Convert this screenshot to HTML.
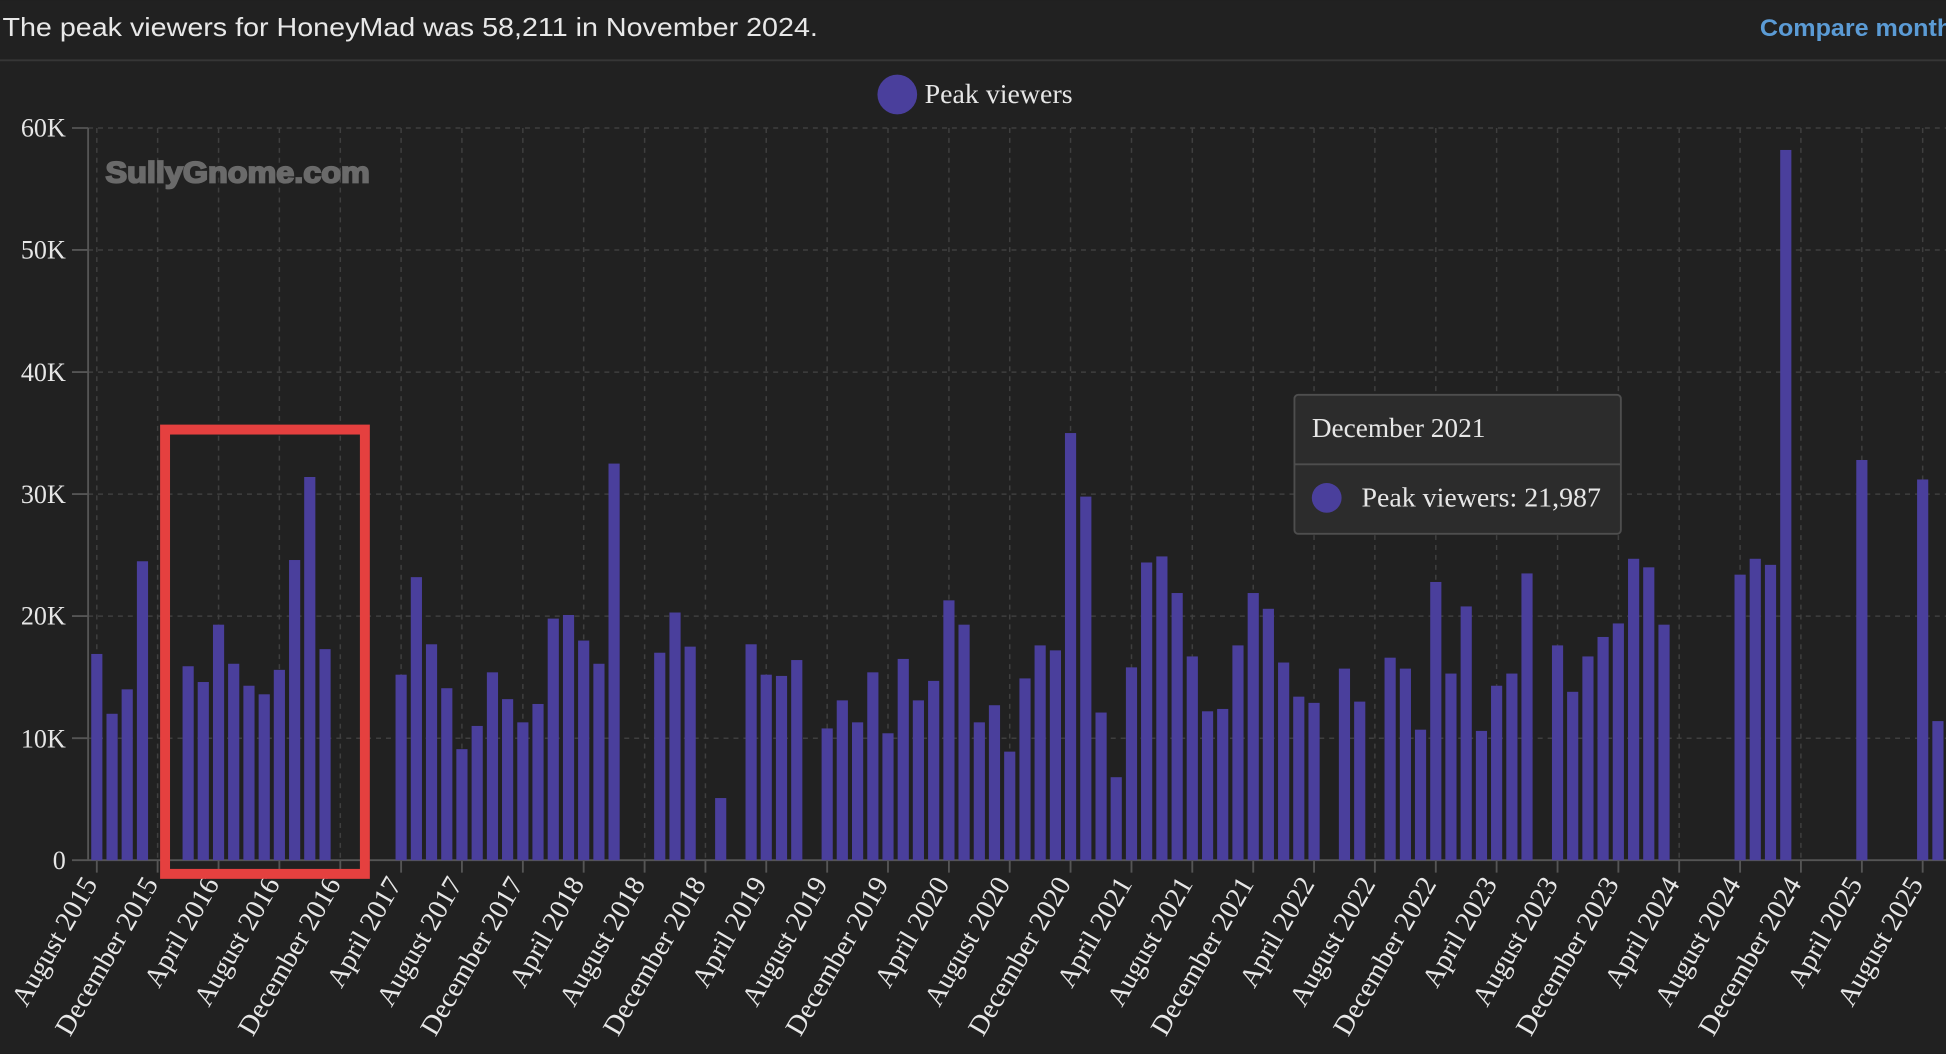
<!DOCTYPE html>
<html><head><meta charset="utf-8"><style>
html,body{margin:0;padding:0;background:#212121;overflow:hidden}
svg{display:block}
.yl{font-family:"Liberation Serif",serif;font-size:21px;fill:#e6e6e6;text-anchor:end}
.xl{font-family:"Liberation Serif",serif;font-size:22.5px;fill:#e6e6e6;text-anchor:end}
</style></head><body>
<svg width="1946" height="1054" viewBox="0 0 1568 849" xmlns="http://www.w3.org/2000/svg">
<rect width="1568" height="849" fill="#212121"/>
<text x="2" y="29" font-family="Liberation Sans,sans-serif" font-size="21" fill="#e8e8e8" textLength="657" lengthAdjust="spacingAndGlyphs">The peak viewers for HoneyMad was 58,211 in November 2024.</text>
<text x="1418" y="29" font-family="Liberation Sans,sans-serif" font-size="19" font-weight="bold" fill="#5b9bd5" textLength="155" lengthAdjust="spacingAndGlyphs">Compare month</text>
<line x1="0" y1="48.5" x2="1568" y2="48.5" stroke="#363636" stroke-width="1.5"/>
<circle cx="723" cy="76" r="16" fill="#4a3f9c"/>
<text x="745" y="83" font-family="Liberation Serif,serif" font-size="22.5" fill="#e6e6e6">Peak viewers</text>
<g stroke="#3f3f3f" stroke-width="1.2" stroke-dasharray="4,4">
<line x1="71" y1="103" x2="1568" y2="103"/><line x1="71" y1="201.3" x2="1568" y2="201.3"/><line x1="71" y1="299.7" x2="1568" y2="299.7"/><line x1="71" y1="398" x2="1568" y2="398"/><line x1="71" y1="496.3" x2="1568" y2="496.3"/><line x1="71" y1="594.7" x2="1568" y2="594.7"/>
</g>
<g stroke="#3f3f3f" stroke-width="1.2" stroke-dasharray="4,4">
<line x1="78" y1="103" x2="78" y2="693"/><line x1="127" y1="103" x2="127" y2="693"/><line x1="176.1" y1="103" x2="176.1" y2="693"/><line x1="225.1" y1="103" x2="225.1" y2="693"/><line x1="274.2" y1="103" x2="274.2" y2="693"/><line x1="323.2" y1="103" x2="323.2" y2="693"/><line x1="372.2" y1="103" x2="372.2" y2="693"/><line x1="421.3" y1="103" x2="421.3" y2="693"/><line x1="470.3" y1="103" x2="470.3" y2="693"/><line x1="519.4" y1="103" x2="519.4" y2="693"/><line x1="568.4" y1="103" x2="568.4" y2="693"/><line x1="617.4" y1="103" x2="617.4" y2="693"/><line x1="666.5" y1="103" x2="666.5" y2="693"/><line x1="715.5" y1="103" x2="715.5" y2="693"/><line x1="764.6" y1="103" x2="764.6" y2="693"/><line x1="813.6" y1="103" x2="813.6" y2="693"/><line x1="862.6" y1="103" x2="862.6" y2="693"/><line x1="911.7" y1="103" x2="911.7" y2="693"/><line x1="960.7" y1="103" x2="960.7" y2="693"/><line x1="1009.8" y1="103" x2="1009.8" y2="693"/><line x1="1058.8" y1="103" x2="1058.8" y2="693"/><line x1="1107.8" y1="103" x2="1107.8" y2="693"/><line x1="1156.9" y1="103" x2="1156.9" y2="693"/><line x1="1205.9" y1="103" x2="1205.9" y2="693"/><line x1="1255" y1="103" x2="1255" y2="693"/><line x1="1304" y1="103" x2="1304" y2="693"/><line x1="1353" y1="103" x2="1353" y2="693"/><line x1="1402.1" y1="103" x2="1402.1" y2="693"/><line x1="1451.1" y1="103" x2="1451.1" y2="693"/><line x1="1500.2" y1="103" x2="1500.2" y2="693"/><line x1="1549.2" y1="103" x2="1549.2" y2="693"/>
</g>
<text x="85" y="147" font-family="Liberation Sans,sans-serif" font-size="24" font-weight="bold" fill="#6a6a6a" stroke="#6a6a6a" stroke-width="1.5" textLength="213" lengthAdjust="spacingAndGlyphs">SullyGnome.com</text>
<g stroke="#555" stroke-width="1.5">
<line x1="71" y1="103" x2="71" y2="693"/>
<line x1="58" y1="693" x2="1568" y2="693"/>
<line x1="58" y1="103" x2="71" y2="103"/><line x1="58" y1="201.3" x2="71" y2="201.3"/><line x1="58" y1="299.7" x2="71" y2="299.7"/><line x1="58" y1="398" x2="71" y2="398"/><line x1="58" y1="496.3" x2="71" y2="496.3"/><line x1="58" y1="594.7" x2="71" y2="594.7"/>
</g>
<g class="yl">
<text x="53" y="110">60K</text><text x="53" y="208">50K</text><text x="53" y="307">40K</text><text x="53" y="405">30K</text><text x="53" y="503">20K</text><text x="53" y="602">10K</text><text x="53" y="700">0</text>
</g>
<g transform="translate(0,693) scale(1,-1)" fill="#4a3f9c">
<rect x="73.5" y="0" width="9" height="166.2"/><rect x="85.8" y="0" width="9" height="118"/><rect x="98" y="0" width="9" height="137.7"/><rect x="110.3" y="0" width="9" height="240.9"/>
<rect x="147.1" y="0" width="9" height="156.3"/><rect x="159.3" y="0" width="9" height="143.6"/><rect x="171.6" y="0" width="9" height="189.8"/><rect x="183.8" y="0" width="9" height="158.3"/><rect x="196.1" y="0" width="9" height="140.6"/><rect x="208.4" y="0" width="9" height="133.7"/><rect x="220.6" y="0" width="9" height="153.4"/><rect x="232.9" y="0" width="9" height="241.9"/><rect x="245.1" y="0" width="9" height="308.8"/><rect x="257.4" y="0" width="9" height="170.1"/>
<rect x="318.7" y="0" width="9" height="149.5"/><rect x="331" y="0" width="9" height="228.1"/><rect x="343.2" y="0" width="9" height="174"/><rect x="355.5" y="0" width="9" height="138.6"/><rect x="367.7" y="0" width="9" height="89.5"/><rect x="380" y="0" width="9" height="108.2"/><rect x="392.3" y="0" width="9" height="151.4"/><rect x="404.5" y="0" width="9" height="129.8"/><rect x="416.8" y="0" width="9" height="111.1"/><rect x="429" y="0" width="9" height="125.9"/><rect x="441.3" y="0" width="9" height="194.7"/><rect x="453.6" y="0" width="9" height="197.6"/><rect x="465.8" y="0" width="9" height="177"/><rect x="478.1" y="0" width="9" height="158.3"/><rect x="490.3" y="0" width="9" height="319.6"/>
<rect x="527.1" y="0" width="9" height="167.2"/><rect x="539.4" y="0" width="9" height="199.6"/><rect x="551.6" y="0" width="9" height="172.1"/><rect x="576.2" y="0" width="9" height="50.1"/>
<rect x="600.7" y="0" width="9" height="174"/><rect x="612.9" y="0" width="9" height="149.5"/><rect x="625.2" y="0" width="9" height="148.5"/><rect x="637.5" y="0" width="9" height="161.3"/>
<rect x="662" y="0" width="9" height="106.2"/><rect x="674.2" y="0" width="9" height="128.8"/><rect x="686.5" y="0" width="9" height="111.1"/><rect x="698.8" y="0" width="9" height="151.4"/><rect x="711" y="0" width="9" height="102.3"/><rect x="723.3" y="0" width="9" height="162.2"/><rect x="735.5" y="0" width="9" height="128.8"/><rect x="747.8" y="0" width="9" height="144.5"/><rect x="760.1" y="0" width="9" height="209.4"/><rect x="772.3" y="0" width="9" height="189.8"/><rect x="784.6" y="0" width="9" height="111.1"/><rect x="796.8" y="0" width="9" height="124.9"/><rect x="809.1" y="0" width="9" height="87.5"/><rect x="821.4" y="0" width="9" height="146.5"/><rect x="833.6" y="0" width="9" height="173.1"/><rect x="845.9" y="0" width="9" height="169.1"/><rect x="858.1" y="0" width="9" height="344.2"/><rect x="870.4" y="0" width="9" height="293"/><rect x="882.7" y="0" width="9" height="119"/><rect x="894.9" y="0" width="9" height="66.9"/><rect x="907.2" y="0" width="9" height="155.4"/><rect x="919.4" y="0" width="9" height="239.9"/><rect x="931.7" y="0" width="9" height="244.8"/><rect x="944" y="0" width="9" height="215.3"/><rect x="956.2" y="0" width="9" height="164.2"/><rect x="968.5" y="0" width="9" height="120"/><rect x="980.7" y="0" width="9" height="121.9"/><rect x="993" y="0" width="9" height="173.1"/><rect x="1005.3" y="0" width="9" height="215.3"/><rect x="1017.5" y="0" width="9" height="202.6"/><rect x="1029.8" y="0" width="9" height="159.3"/><rect x="1042" y="0" width="9" height="131.8"/><rect x="1054.3" y="0" width="9" height="126.8"/>
<rect x="1078.8" y="0" width="9" height="154.4"/><rect x="1091.1" y="0" width="9" height="127.8"/>
<rect x="1115.6" y="0" width="9" height="163.2"/><rect x="1127.9" y="0" width="9" height="154.4"/><rect x="1140.1" y="0" width="9" height="105.2"/><rect x="1152.4" y="0" width="9" height="224.2"/><rect x="1164.6" y="0" width="9" height="150.4"/><rect x="1176.9" y="0" width="9" height="204.5"/><rect x="1189.2" y="0" width="9" height="104.2"/><rect x="1201.4" y="0" width="9" height="140.6"/><rect x="1213.7" y="0" width="9" height="150.4"/><rect x="1225.9" y="0" width="9" height="231.1"/>
<rect x="1250.5" y="0" width="9" height="173.1"/><rect x="1262.7" y="0" width="9" height="135.7"/><rect x="1275" y="0" width="9" height="164.2"/><rect x="1287.2" y="0" width="9" height="179.9"/><rect x="1299.5" y="0" width="9" height="190.8"/><rect x="1311.8" y="0" width="9" height="242.9"/><rect x="1324" y="0" width="9" height="236"/><rect x="1336.3" y="0" width="9" height="189.8"/>
<rect x="1397.6" y="0" width="9" height="230.1"/><rect x="1409.8" y="0" width="9" height="242.9"/><rect x="1422.1" y="0" width="9" height="238"/><rect x="1434.4" y="0" width="9" height="572.3"/>
<rect x="1495.7" y="0" width="9" height="322.5"/><rect x="1544.7" y="0" width="9" height="306.8"/><rect x="1557" y="0" width="9" height="112.1"/>
</g>
<g stroke="#555" stroke-width="1.5">
<line x1="78" y1="693" x2="78" y2="703"/><line x1="127" y1="693" x2="127" y2="703"/><line x1="176.1" y1="693" x2="176.1" y2="703"/><line x1="225.1" y1="693" x2="225.1" y2="703"/><line x1="274.2" y1="693" x2="274.2" y2="703"/><line x1="323.2" y1="693" x2="323.2" y2="703"/><line x1="372.2" y1="693" x2="372.2" y2="703"/><line x1="421.3" y1="693" x2="421.3" y2="703"/><line x1="470.3" y1="693" x2="470.3" y2="703"/><line x1="519.4" y1="693" x2="519.4" y2="703"/><line x1="568.4" y1="693" x2="568.4" y2="703"/><line x1="617.4" y1="693" x2="617.4" y2="703"/><line x1="666.5" y1="693" x2="666.5" y2="703"/><line x1="715.5" y1="693" x2="715.5" y2="703"/><line x1="764.6" y1="693" x2="764.6" y2="703"/><line x1="813.6" y1="693" x2="813.6" y2="703"/><line x1="862.6" y1="693" x2="862.6" y2="703"/><line x1="911.7" y1="693" x2="911.7" y2="703"/><line x1="960.7" y1="693" x2="960.7" y2="703"/><line x1="1009.8" y1="693" x2="1009.8" y2="703"/><line x1="1058.8" y1="693" x2="1058.8" y2="703"/><line x1="1107.8" y1="693" x2="1107.8" y2="703"/><line x1="1156.9" y1="693" x2="1156.9" y2="703"/><line x1="1205.9" y1="693" x2="1205.9" y2="703"/><line x1="1255" y1="693" x2="1255" y2="703"/><line x1="1304" y1="693" x2="1304" y2="703"/><line x1="1353" y1="693" x2="1353" y2="703"/><line x1="1402.1" y1="693" x2="1402.1" y2="703"/><line x1="1451.1" y1="693" x2="1451.1" y2="703"/><line x1="1500.2" y1="693" x2="1500.2" y2="703"/><line x1="1549.2" y1="693" x2="1549.2" y2="703"/>
</g>
<g class="xl">
<text transform="translate(79,712) rotate(-60)">August 2015</text>
<text transform="translate(128,712) rotate(-60)">December 2015</text>
<text transform="translate(177.1,712) rotate(-60)">April 2016</text>
<text transform="translate(226.1,712) rotate(-60)">August 2016</text>
<text transform="translate(275.2,712) rotate(-60)">December 2016</text>
<text transform="translate(324.2,712) rotate(-60)">April 2017</text>
<text transform="translate(373.2,712) rotate(-60)">August 2017</text>
<text transform="translate(422.3,712) rotate(-60)">December 2017</text>
<text transform="translate(471.3,712) rotate(-60)">April 2018</text>
<text transform="translate(520.4,712) rotate(-60)">August 2018</text>
<text transform="translate(569.4,712) rotate(-60)">December 2018</text>
<text transform="translate(618.4,712) rotate(-60)">April 2019</text>
<text transform="translate(667.5,712) rotate(-60)">August 2019</text>
<text transform="translate(716.5,712) rotate(-60)">December 2019</text>
<text transform="translate(765.6,712) rotate(-60)">April 2020</text>
<text transform="translate(814.6,712) rotate(-60)">August 2020</text>
<text transform="translate(863.6,712) rotate(-60)">December 2020</text>
<text transform="translate(912.7,712) rotate(-60)">April 2021</text>
<text transform="translate(961.7,712) rotate(-60)">August 2021</text>
<text transform="translate(1010.8,712) rotate(-60)">December 2021</text>
<text transform="translate(1059.8,712) rotate(-60)">April 2022</text>
<text transform="translate(1108.8,712) rotate(-60)">August 2022</text>
<text transform="translate(1157.9,712) rotate(-60)">December 2022</text>
<text transform="translate(1206.9,712) rotate(-60)">April 2023</text>
<text transform="translate(1256,712) rotate(-60)">August 2023</text>
<text transform="translate(1305,712) rotate(-60)">December 2023</text>
<text transform="translate(1354,712) rotate(-60)">April 2024</text>
<text transform="translate(1403.1,712) rotate(-60)">August 2024</text>
<text transform="translate(1452.1,712) rotate(-60)">December 2024</text>
<text transform="translate(1501.2,712) rotate(-60)">April 2025</text>
<text transform="translate(1550.2,712) rotate(-60)">August 2025</text>
</g>
<rect x="133" y="346" width="161" height="358" fill="none" stroke="#e5403f" stroke-width="8"/>
<rect x="1043" y="318" width="263" height="112" rx="3" fill="#2c2c2c" stroke="#4e4e4e" stroke-width="1.5"/>
<line x1="1043" y1="374" x2="1306" y2="374" stroke="#4e4e4e" stroke-width="1.5"/>
<text x="1057" y="352" font-family="Liberation Serif,serif" font-size="22" fill="#e6e6e6">December 2021</text>
<circle cx="1069" cy="401" r="12" fill="#4a3f9c"/>
<text x="1097" y="408" font-family="Liberation Serif,serif" font-size="22.5" fill="#e6e6e6">Peak viewers: 21,987</text>
</svg>
</body></html>
